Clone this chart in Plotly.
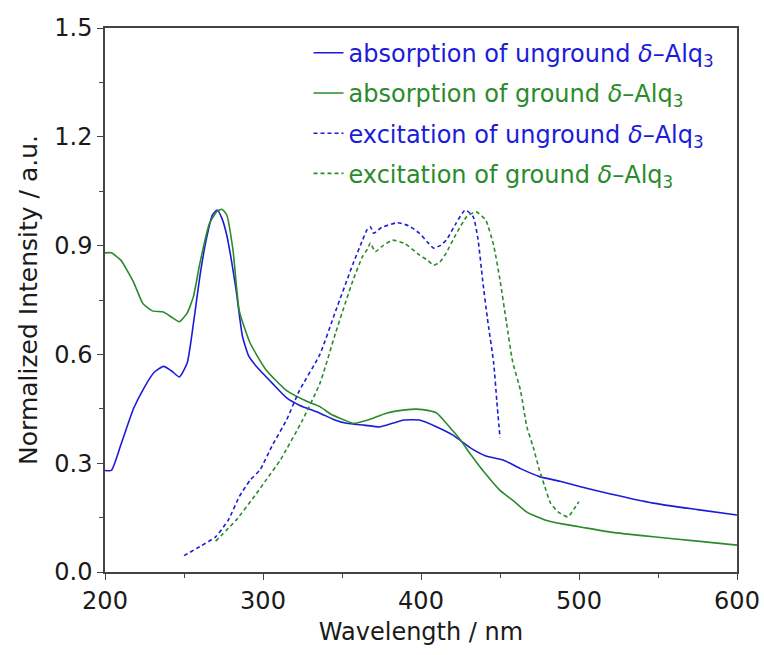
import plotly.graph_objects as go

# ---- data ----
abs_unground_x = [200, 204, 210, 218, 225, 231, 237, 242, 247, 252, 256, 260, 264, 268, 271, 274, 277, 280, 283, 287,
                  291, 296, 306, 315, 323, 336, 345, 353, 364, 374, 382, 389, 399, 410, 420, 432, 441, 452, 463, 475,
                  488, 501, 520, 547, 575, 600]
abs_unground_y = [0.28, 0.28, 0.35, 0.45, 0.51, 0.55, 0.567, 0.555, 0.538, 0.576, 0.686, 0.814, 0.915, 0.984, 0.998, 0.975, 0.93, 0.86, 0.777, 0.65,
                  0.595, 0.566, 0.52, 0.48, 0.46, 0.438, 0.42, 0.41, 0.405, 0.40, 0.41, 0.419, 0.419, 0.40, 0.378, 0.34, 0.32, 0.309, 0.285, 0.263,
                  0.25, 0.235, 0.215, 0.19, 0.172, 0.157]

abs_ground_x = [200, 204, 210, 218, 224, 230, 237, 243, 247, 252, 256, 260, 266, 271, 274, 277, 281, 285, 292, 302,
                315, 328, 336, 343, 351, 357, 367, 378, 390, 397, 405, 410, 420, 425, 431, 441, 450, 458, 467, 479,
                490, 500, 520, 547, 575, 600]
abs_ground_y = [0.88, 0.88, 0.86, 0.80, 0.74, 0.72, 0.717, 0.70, 0.69, 0.714, 0.76, 0.85, 0.96, 0.995, 1.0, 0.985, 0.888, 0.72, 0.63, 0.557,
                0.50, 0.47, 0.456, 0.435, 0.42, 0.41, 0.42, 0.438, 0.447, 0.449, 0.445, 0.438, 0.39, 0.364, 0.327, 0.27, 0.225, 0.198, 0.165, 0.143,
                0.132, 0.125, 0.11, 0.097, 0.085, 0.074]

exc_unground_x = [250, 260, 270, 278, 285, 292, 298, 306, 315, 323, 336, 346, 357, 363, 366, 368, 370, 375, 385, 392,
                  399, 404, 408, 412, 416, 422, 428, 433, 436, 439, 442, 446, 448, 450]
exc_unground_y = [0.045, 0.07, 0.097, 0.143, 0.208, 0.254, 0.281, 0.35, 0.42, 0.50, 0.60, 0.72, 0.85, 0.915, 0.945, 0.952, 0.934, 0.95, 0.963, 0.955,
                  0.934, 0.91, 0.893, 0.90, 0.915, 0.96, 0.998, 0.98, 0.92, 0.805, 0.70, 0.576, 0.47, 0.37]

exc_ground_x = [270, 283, 296, 302, 311, 325, 336, 346, 357, 363, 366, 368, 371, 376, 382, 390, 399, 404, 408, 412,
                416, 422, 429, 435, 441, 446, 450, 454, 458, 463, 467, 471, 475, 478, 482, 487, 493, 497, 500]
exc_ground_y = [0.085, 0.143, 0.217, 0.254, 0.309, 0.419, 0.52, 0.66, 0.805, 0.87, 0.89, 0.907, 0.883, 0.90, 0.915, 0.905, 0.874, 0.86, 0.846, 0.855,
                0.88, 0.93, 0.98, 0.993, 0.97, 0.90, 0.805, 0.69, 0.58, 0.50, 0.40, 0.345, 0.28, 0.24, 0.19, 0.165, 0.152, 0.175, 0.194]

BLUE = "#1c1cd8"
GREEN = "#2b8a2b"
FONT = "DejaVu Sans, Arial, sans-serif"

def lab(kind, state, color):
    return f'<span style="color:{color}">{kind} of {state} <i>δ</i>–Alq<sub>3</sub></span>'

series = [
    (abs_unground_x, abs_unground_y, lab("absorption", "unground", BLUE), BLUE, "solid"),
    (abs_ground_x, abs_ground_y, lab("absorption", "ground", GREEN), GREEN, "solid"),
    (exc_unground_x, exc_unground_y, lab("excitation", "unground", BLUE), BLUE, "4px,3px"),
    (exc_ground_x, exc_ground_y, lab("excitation", "ground", GREEN), GREEN, "4px,3px"),
]

fig = go.Figure()
for i, (xs, ys, name, col, dash) in enumerate(series):
    fig.add_trace(go.Scatter(x=xs, y=ys, mode="lines", name=name, legendgroup=f"g{i}",
                             line=dict(color=col, width=1.6, dash=dash, shape="spline", smoothing=0.5)))

axis_common = dict(showline=True, linecolor="#444", linewidth=1.5, mirror=True, ticks="outside",
                   ticklen=6, tickwidth=1.3, tickcolor="#444", showgrid=False, zeroline=False,
                   automargin=False,
                   tickfont=dict(family=FONT, size=24, color="#1a1a1a"))

fig.update_xaxes(range=[200, 600], dtick=100, tick0=200,
                 minor=dict(dtick=50, ticks="outside", ticklen=4, tickcolor="#444"),
                 title=dict(text="Wavelength / nm", font=dict(family=FONT, size=24, color="#1a1a1a"), standoff=10),
                 **axis_common)
fig.update_yaxes(range=[0, 1.5], dtick=0.3, tick0=0, tickformat=".1f",
                 minor=dict(dtick=0.15, ticks="outside", ticklen=4, tickcolor="#444"),
                 title=dict(text="Normalized Intensity / a.u.", font=dict(family=FONT, size=25, color="#1a1a1a"), standoff=10),
                 **axis_common)

fig.update_layout(
    width=764, height=655,
    margin=dict(l=105, r=27, t=28, b=83),
    paper_bgcolor="white", plot_bgcolor="white",
    font=dict(family=FONT, size=24),
    legend=dict(x=0.322, y=0.995, xanchor="left", yanchor="top", bgcolor="rgba(0,0,0,0)",
                traceorder="grouped", tracegroupgap=6, font=dict(family=FONT, size=24)),
)

fig.write_html("out.html")
